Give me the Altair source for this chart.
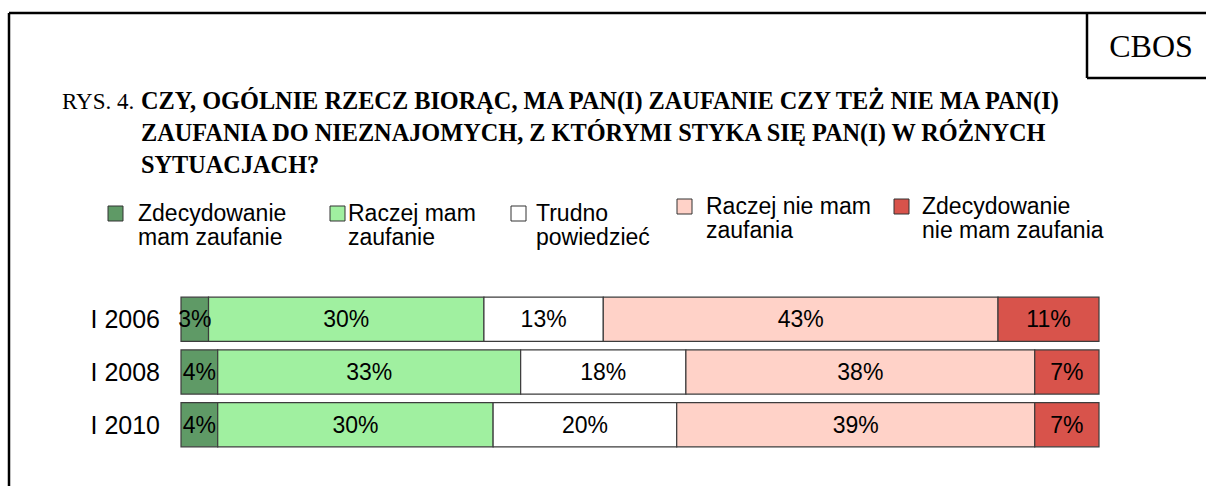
import altair as alt
import pandas as pd

years = ["I 2006", "I 2008", "I 2010"]
categories = [
    "Zdecydowanie mam zaufanie",
    "Raczej mam zaufanie",
    "Trudno powiedzieć",
    "Raczej nie mam zaufania",
    "Zdecydowanie nie mam zaufania",
]
legend_labels = [
    "Zdecydowanie\nmam zaufanie",
    "Raczej mam\nzaufanie",
    "Trudno\npowiedzieć",
    "Raczej nie mam\nzaufania",
    "Zdecydowanie\nnie mam zaufania",
]
colors = ["#5f9a66", "#a0f0a0", "#ffffff", "#ffd2c8", "#d8534b"]
values_2006 = [3, 30, 13, 43, 11]
values_2008 = [4, 33, 18, 38, 7]
values_2010 = [4, 30, 20, 39, 7]

title_prefix = "RYS. 4."
title_lines = [
    "CZY, OGÓLNIE RZECZ BIORĄC, MA PAN(I) ZAUFANIE CZY TEŻ NIE MA PAN(I)",
    "ZAUFANIA DO NIEZNAJOMYCH, Z KTÓRYMI STYKA SIĘ PAN(I) W RÓŻNYCH",
    "SYTUACJACH?",
]
badge = "CBOS"

rows = []
for year, vals in zip(years, [values_2006, values_2008, values_2010]):
    start = 0
    for i, (cat, v) in enumerate(zip(categories, vals)):
        rows.append({"year": year, "cat": cat, "order": i, "value": v,
                     "start": start, "end": start + v, "mid": start + v / 2,
                     "label": f"{v}%"})
        start += v
df = pd.DataFrame(rows)

W, H = 1206, 486
SANS = "Liberation Sans"
SERIF = "Liberation Serif"

xs = alt.Scale(domain=[0, 100], range=[181, 1099])
ys = alt.Scale(domain=years, range=[293, 451], paddingInner=0.16, paddingOuter=0.08)

base = alt.Chart(df)
bars = base.mark_bar(stroke="#3c3c3c", strokeWidth=1.2).encode(
    x=alt.X("start:Q", scale=xs, axis=None),
    x2="end:Q",
    y=alt.Y("year:N", scale=ys, axis=None, sort=years),
    color=alt.Color("cat:N", scale=alt.Scale(domain=categories, range=colors), legend=None),
)
labels = base.mark_text(font=SANS, fontSize=23, color="#000000", baseline="middle", align="center", dy=1).encode(
    x=alt.X("mid:Q", scale=xs, axis=None),
    y=alt.Y("year:N", scale=ys, axis=None, sort=years, bandPosition=0.5),
    text="label:N",
)
year_df = pd.DataFrame({"year": years})
year_labels = alt.Chart(year_df).mark_text(font=SANS, fontSize=25, align="right", baseline="middle", dy=1).encode(
    x=alt.value(160),
    y=alt.Y("year:N", scale=ys, axis=None, sort=years, bandPosition=0.5),
    text="year:N",
)

one = pd.DataFrame({"k": [0]})
layers = [bars, labels, year_labels]

# frame
frame_color = "#000000"
layers.append(alt.Chart(one).mark_rule(color=frame_color, strokeWidth=2.5).encode(
    x=alt.value(9), y=alt.value(13), y2=alt.value(H + 5)))
layers.append(alt.Chart(one).mark_rule(color=frame_color, strokeWidth=2.5).encode(
    x=alt.value(9), x2=alt.value(W + 5), y=alt.value(13)))
layers.append(alt.Chart(one).mark_rule(color=frame_color, strokeWidth=2.5).encode(
    x=alt.value(1087), y=alt.value(13), y2=alt.value(78)))
layers.append(alt.Chart(one).mark_rule(color=frame_color, strokeWidth=2.5).encode(
    x=alt.value(1087), x2=alt.value(W + 5), y=alt.value(78)))
layers.append(alt.Chart(one).mark_text(font=SERIF, fontSize=32, align="center", baseline="alphabetic").encode(
    x=alt.value(1151), y=alt.value(57), text=alt.value(badge)))

# title
layers.append(alt.Chart(one).mark_text(font=SERIF, fontSize=23, align="left", baseline="alphabetic").encode(
    x=alt.value(62), y=alt.value(109), text=alt.value(title_prefix)))
for i, line in enumerate(title_lines):
    layers.append(alt.Chart(one).mark_text(font=SERIF, fontSize=24.3, fontWeight="bold", align="left",
                                           baseline="alphabetic").encode(
        x=alt.value(141), y=alt.value(109 + 32 * i), text=alt.value(line)))

# legend
sq_x = [108, 330, 511, 677, 894]
tx_x = [138, 348, 536, 706, 922]
sq_y = [206, 206, 206, 199, 199]
tx_y = [221, 221, 221, 214, 214]
for i in range(5):
    layers.append(alt.Chart(one).mark_rect(fill=colors[i], stroke="#333333", strokeWidth=1).encode(
        x=alt.value(sq_x[i]), x2=alt.value(sq_x[i] + 15),
        y=alt.value(sq_y[i]), y2=alt.value(sq_y[i] + 15)))
    layers.append(alt.Chart(one).mark_text(font=SANS, fontSize=23, align="left", baseline="alphabetic",
                                           lineBreak="\n", lineHeight=24).encode(
        x=alt.value(tx_x[i]), y=alt.value(tx_y[i]), text=alt.value(legend_labels[i])))

chart = alt.layer(*layers).properties(
    width=W, height=H, padding=0, autosize=alt.AutoSizeParams(type="none"), background="#ffffff"
).configure_view(stroke=None)

chart.save("out.html", embed_options={"renderer": "svg", "actions": False})
